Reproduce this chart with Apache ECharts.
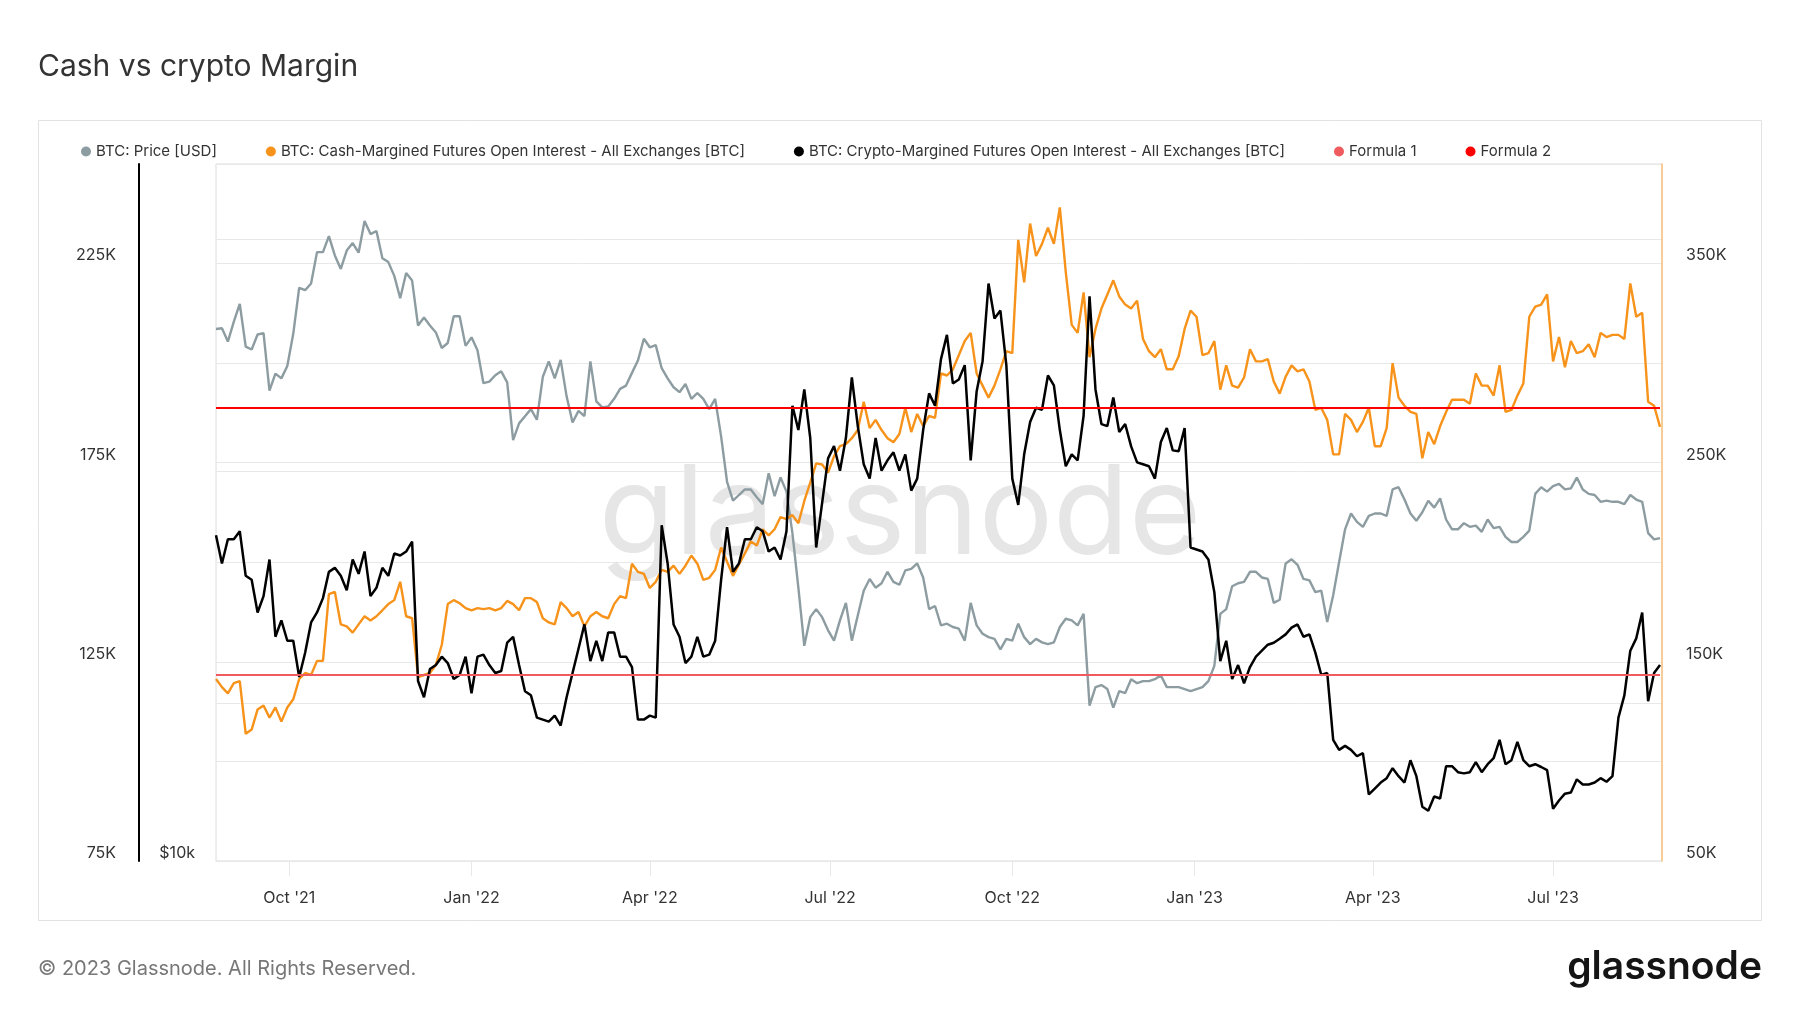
<!DOCTYPE html>
<html>
<head>
<meta charset="utf-8">
<script src="https://cdn.jsdelivr.net/npm/echarts@6/dist/echarts.min.js"></script>
<style>
  html, body { margin: 0; padding: 0; background: #fff; }
  #chart { width: 1800px; height: 1013px; }
</style>
</head>
<body>
<div id="chart"></div>
<script>
// ---- data (one sample every 3 days from 25 Aug 2021) ----
const startDate = '2021-08-25';
const stepDays = 3;

// BTC price, thousands of USD
const priceK = [
  48.9, 49.0, 47.1, 50.0, 52.7, 46.4, 46.0, 48.1, 48.3, 40.7, 42.8, 42.2, 43.8, 48.2, 55.3, 54.9, 56.0, 61.5, 61.5, 64.5,
  60.9, 58.5, 61.8, 63.2, 61.4, 67.5, 64.9, 65.5, 60.4, 59.7, 57.3, 53.6, 57.8, 56.5, 49.4, 50.6, 49.4, 48.4, 46.2, 46.9,
  50.8, 50.8,
  46.5, 47.7, 45.9, 41.6, 41.8, 42.6, 43.1, 41.7, 35.1, 36.9, 37.7, 38.5, 37.3, 42.4, 44.4, 42.2, 44.6, 40.0, 37.0, 38.3,
  37.7, 44.4, 39.4, 38.7, 38.8, 39.7, 40.9, 41.3, 42.9, 44.5, 47.5, 46.3, 46.6, 43.5, 42.2, 41.1, 40.5, 41.5, 39.7, 40.4,
  39.7,
  38.5, 39.7, 35.5, 31.0, 29.3, 29.8, 30.3, 30.3, 29.6, 29.0, 31.8, 29.7, 31.4, 30.1, 26.6, 22.6, 19.0, 20.7, 21.2, 20.7,
  19.9, 19.3, 20.5, 21.6, 19.3, 20.8, 22.4, 23.2, 22.6, 22.9, 23.7, 23.0, 22.8, 23.8, 23.9, 24.3, 23.3, 21.2, 21.4, 20.2,
  20.3,
  20.1, 20.0, 19.3, 21.6, 20.2, 19.7, 19.5, 19.4, 18.8, 19.4, 19.3, 20.3, 19.5, 19.1, 19.4, 19.2, 19.1, 19.2, 20.1, 20.6,
  20.5, 20.2, 20.9, 15.9, 16.8, 16.9, 16.7, 15.8, 16.6, 16.5, 17.2, 17.0, 17.1, 17.1, 17.2, 17.4, 16.8, 16.8, 16.8, 16.7,
  16.6,
  16.7, 16.8, 17.1, 17.9, 20.9, 21.2, 22.7, 22.9, 23.0, 23.7, 23.7, 23.3, 23.2, 21.6, 21.8, 24.3, 24.6, 24.2, 23.2, 23.1,
  22.3, 22.4, 20.4, 22.1, 24.4, 26.9, 28.2, 27.5, 27.1, 28.0, 28.2, 28.2, 28.0, 30.3, 30.5, 29.4, 28.2, 27.6, 28.3, 29.3,
  28.7, 29.5, 27.7, 26.9, 26.9, 27.4, 27.1, 27.2, 26.7, 27.7, 27.0, 27.1, 26.3, 25.9, 25.9, 26.3, 26.8, 29.9, 30.5, 30.1,
  30.6, 30.8, 30.3, 30.4, 31.4, 30.3, 29.9, 29.8, 29.2, 29.3, 29.2, 29.2, 29.0, 29.8, 29.4, 29.2, 26.6, 26.1, 26.2
];

// Cash-margined futures open interest, thousands of BTC
const cashOIK = [
  141.4, 137.3, 134.2, 139.3, 140.3, 113.9, 116.0, 126.1, 128.1, 122.0, 127.1, 120.0, 127.1, 131.2, 141.4, 144.4, 143.4, 150.5, 150.5, 184.0,
  185.1, 168.8, 167.8, 164.7, 168.8, 172.9, 170.8, 172.9, 175.9, 179.0, 181.0, 190.2, 172.9, 171.9, 142.4, 143.4, 144.4, 148.5, 158.6, 179.0,
  181.0, 179.4,
  177.0, 175.9, 177.0, 176.5, 177.0, 175.9, 177.0, 180.6, 179.0, 175.9, 182.0, 182.0, 180.0, 171.9, 169.8, 168.8, 180.0, 177.0, 172.9, 175.0,
  167.8, 172.9, 175.0, 172.9, 171.9, 179.0, 183.0, 182.0, 199.3, 195.2, 194.2, 187.1, 190.2, 196.2, 195.2, 198.3, 194.2, 198.3, 203.4, 199.3,
  191.2,
  192.2, 196.2, 207.4, 200.3, 193.2, 198.9, 204.4, 210.5, 208.4, 216.6, 213.5, 216.6, 222.7, 221.7, 223.7, 219.6, 230.8, 240.0, 249.7, 249.1,
  245.1, 253.2, 258.3, 259.3, 262.3, 266.4, 280.6, 267.4, 271.5, 266.4, 262.3, 260.3, 264.4, 277.6, 265.4, 274.5, 268.4, 273.5, 272.5, 294.8,
  293.8,
  296.9, 304.0, 311.1, 315.2, 294.8, 288.7, 282.7, 288.7, 296.9, 306.0, 305.0, 361.9, 340.6, 370.1, 353.8, 359.9, 368.0, 359.9, 378.2, 345.7,
  319.2, 315.2, 335.5, 303.0, 317.2, 327.4, 334.5, 341.6, 333.5, 329.4, 327.4, 331.4, 312.1, 306.0, 303.0, 307.0, 296.9, 296.9, 303.4, 317.2,
  326.4,
  323.3, 304.0, 305.0, 311.1, 286.7, 298.9, 288.7, 287.7, 292.8, 307.0, 300.9, 300.9, 302.0, 290.8, 284.7, 293.2, 298.9, 295.9, 296.9, 290.8,
  276.5, 277.5, 271.5, 254.2, 254.2, 274.5, 271.5, 265.4, 270.5, 277.6, 258.3, 258.3, 267.4, 300.0, 282.7, 278.6, 275.5, 274.5, 252.2, 265.4,
  259.3, 268.4, 275.5, 281.6, 281.6, 281.6, 279.6, 294.8, 288.7, 288.7, 283.7, 298.9, 275.5, 276.5, 283.7, 289.8, 323.3, 328.4, 329.4, 334.5,
  300.9, 313.1, 297.9, 311.1, 305.0, 306.0, 309.5, 303.0, 315.2, 313.1, 314.2, 314.2, 312.1, 340.0, 323.3, 325.3, 280.6, 278.6, 268.0
];

// Crypto-margined futures open interest, thousands of BTC
const cryptoOIK = [
  156.8, 149.7, 155.8, 155.8, 157.8, 146.6, 145.6, 137.4, 141.5, 150.7, 131.3, 135.4, 130.3, 130.3, 121.2, 127.3, 134.9, 137.4, 141.0, 147.6,
  148.6, 146.6, 143.0, 150.7, 147.1, 152.7, 141.5, 143.6, 148.6, 146.6, 152.2, 151.7, 152.7, 155.2, 120.2, 116.1, 123.2, 124.2, 126.3, 124.7,
  120.7, 121.7,
  126.3, 117.1, 126.3, 126.8, 124.2, 122.2, 122.7, 129.8, 131.3, 124.2, 117.6, 116.6, 111.0, 110.5, 110.0, 111.5, 109.0, 116.1, 122.2, 128.3,
  134.4, 125.2, 130.3, 125.2, 132.4, 132.4, 126.3, 126.3, 123.7, 110.5, 110.5, 111.5, 111.0, 159.3, 149.7, 134.4, 131.3, 124.7, 126.3, 131.3,
  126.3,
  126.8, 130.3, 145.6, 158.8, 147.6, 149.7, 155.8, 155.8, 158.8, 157.8, 152.7, 153.7, 150.7, 157.8, 189.3, 183.2, 193.4, 181.2, 153.7, 164.9,
  176.1, 179.2, 173.0, 181.2, 196.4, 184.2, 174.6, 171.0, 181.2, 173.0, 175.6, 177.6, 173.0, 177.1, 168.0, 171.0, 183.2, 192.4, 189.3, 201.0,
  207.1,
  194.9, 195.9, 199.5, 175.6, 192.9, 200.5, 220.0, 211.2, 213.2, 199.5, 171.0, 164.4, 177.1, 185.2, 188.8, 188.3, 196.9, 194.4, 183.2, 174.1,
  177.1, 175.6, 186.8, 216.8, 193.4, 184.7, 184.2, 191.4, 182.7, 184.7, 179.1, 175.1, 174.6, 174.1, 171.0, 180.2, 183.7, 178.1, 177.9, 183.7,
  153.7,
  153.2, 152.7, 150.7, 142.5, 125.2, 130.3, 120.7, 124.2, 119.6, 123.7, 126.3, 127.8, 129.3, 129.8, 130.8, 131.9, 133.6, 134.4, 131.3, 131.9,
  127.3, 121.7, 122.2, 105.4, 102.9, 103.9, 102.9, 101.3, 102.1, 91.7, 93.2, 94.7, 95.8, 98.3, 96.3, 94.7, 100.3, 96.3, 88.6, 87.6,
  91.2, 90.7, 98.8, 98.8, 97.3, 97.0, 97.3, 99.8, 97.3, 99.3, 100.8, 105.4, 99.3, 100.3, 104.9, 100.3, 98.8, 99.3, 98.6, 97.8,
  88.1, 90.2, 91.9, 92.2, 95.5, 94.2, 94.2, 94.7, 95.8, 94.9, 96.3, 111.0, 116.6, 127.8, 130.9, 137.4, 115.1, 122.2, 124.2
];

// Horizontal reference formulas
const formula1K = [121.7];   // on crypto-margined (left) axis
const formula2K = [277.5];   // on cash-margined (right) axis

// Axis ranges / ticks
const leftTicksK = [75, 125, 175, 225];
const rightTicksK = [50, 150, 250, 350];
const priceTicksK = [10, 40];
const xRange = ['2021-08-25', '2023-08-25'];

// ---- build ----
const DAY = 86400000;
const t0 = Date.parse(startDate + 'T00:00:00Z');
const toSeries = arr => arr.map((v, i) => [t0 + i * stepDays * DAY, v]);
const xMin = Date.parse(xRange[0] + 'T00:00:00Z');
const xMax = Date.parse(xRange[1] + 'T00:00:00Z');
const tLast = t0 + (priceK.length - 1) * stepDays * DAY;
const MONTHS = ['Jan','Feb','Mar','Apr','May','Jun','Jul','Aug','Sep','Oct','Nov','Dec'];
const FONT = 'Inter, "Noto Sans", sans-serif';

const chart = echarts.init(document.getElementById('chart'), null, { renderer: 'canvas' });
chart.setOption({
  animation: false,
  useUTC: true,
  backgroundColor: '#ffffff',
  title: {
    text: 'Cash vs crypto Margin',
    left: 33, top: 47,
    textStyle: { fontFamily: FONT, fontSize: 30, fontWeight: 'normal', color: '#333' }
  },
  legend: {
    left: 76, top: 139,
    icon: 'circle', itemWidth: 10, itemHeight: 10, itemGap: 49,
    textStyle: { fontFamily: FONT, fontSize: 15, color: '#333' },
    data: [
      'BTC: Price [USD]',
      'BTC: Cash-Margined Futures Open Interest - All Exchanges [BTC]',
      'BTC: Crypto-Margined Futures Open Interest - All Exchanges [BTC]',
      'Formula 1', 'Formula 2'
    ]
  },
  grid: { left: 216, right: 138, top: 164, bottom: 152, show: true, borderColor: '#dcdcdc', borderWidth: 1 },
  xAxis: {
    type: 'time', min: xMin, max: xMax,
    splitNumber: 8,
    minInterval: 88 * DAY, maxInterval: 93 * DAY,
    axisLine: { show: false },
    axisTick: { show: true, length: 15, lineStyle: { color: '#e8e8e8' } },
    splitLine: { show: false },
    axisLabel: {
      margin: 29, fontFamily: FONT, fontSize: 16, color: '#333', showMinLabel: false, showMaxLabel: false,
      formatter: v => { const d = new Date(v); return MONTHS[d.getUTCMonth()] + " '" + String(d.getUTCFullYear()).slice(2); }
    }
  },
  yAxis: [
    { // crypto-margined OI (left outer)
      type: 'value', position: 'left', offset: 77, min: 75, max: 250, interval: 25,
      axisLine: { show: true, lineStyle: { color: '#000', width: 2 } },
      axisTick: { show: false },
      splitLine: { show: true, lineStyle: { color: '#e8e8e8', width: 1 } },
      axisLabel: {
        margin: 23, fontFamily: FONT, fontSize: 16, color: '#333', verticalAlign: 'bottom',
        formatter: v => leftTicksK.includes(Math.round(v)) ? Math.round(v) + 'K' : ''
      }
    },
    { // price (log, left inner)
      type: 'log', logBase: 2, position: 'left', min: 10, max: 80,
      axisLine: { show: false }, axisTick: { show: false },
      splitLine: { show: true, lineStyle: { color: '#e8e8e8', width: 1 } },
      axisLabel: {
        margin: 21, fontFamily: FONT, fontSize: 16, color: '#333', verticalAlign: 'bottom',
        formatter: v => priceTicksK.includes(Math.round(v)) ? '$' + Math.round(v) + 'k' : ''
      }
    },
    { // cash-margined OI (right)
      type: 'value', position: 'right', min: 50, max: 400, interval: 50,
      axisLine: { show: true, lineStyle: { color: '#f9c27c', width: 1.5 } },
      axisTick: { show: false },
      splitLine: { show: false },
      axisLabel: {
        margin: 24, fontFamily: FONT, fontSize: 16, color: '#333', verticalAlign: 'bottom',
        formatter: v => rightTicksK.includes(Math.round(v)) ? Math.round(v) + 'K' : ''
      }
    }
  ],
  graphic: [
    { type: 'rect', z: -10, shape: { x: 38.5, y: 120.5, width: 1723, height: 800 },
      style: { fill: 'none', stroke: '#e2e2e2', lineWidth: 1 } },
    { type: 'text', z: 1, left: 'center', top: 455, silent: true,
      style: { text: 'glassnode', font: '400 124px Inter, sans-serif', fill: '#e6e6e6' }, x: -(900 - 939) },
    { type: 'text', left: 38, top: 959,
      style: { text: '© 2023 Glassnode. All Rights Reserved.', font: '20px Inter, sans-serif', fill: '#777' } },
    { type: 'text', right: 38, top: 948,
      style: { text: 'glassnode', font: '600 39px Inter, sans-serif', fill: '#151515' } }
  ],
  series: [
    { name: 'BTC: Price [USD]', type: 'line', yAxisIndex: 1, data: toSeries(priceK),
      showSymbol: false, color: '#8c9ca1', lineStyle: { width: 2.4 }, z: 3 },
    { name: 'BTC: Cash-Margined Futures Open Interest - All Exchanges [BTC]', type: 'line', yAxisIndex: 2,
      data: toSeries(cashOIK), showSymbol: false, color: '#f7931a', lineStyle: { width: 2.4 }, z: 4 },
    { name: 'BTC: Crypto-Margined Futures Open Interest - All Exchanges [BTC]', type: 'line', yAxisIndex: 0,
      data: toSeries(cryptoOIK), showSymbol: false, color: '#000000', lineStyle: { width: 2.5 }, z: 5 },
    { name: 'Formula 1', type: 'line', yAxisIndex: 0, data: [[t0, formula1K[0]], [tLast, formula1K[0]]],
      showSymbol: false, color: '#ef5b5f', lineStyle: { width: 2 }, z: 6 },
    { name: 'Formula 2', type: 'line', yAxisIndex: 2, data: [[t0, formula2K[0]], [tLast, formula2K[0]]],
      showSymbol: false, color: '#ff0000', lineStyle: { width: 2 }, z: 6 }
  ]
});
</script>
</body>
</html>
